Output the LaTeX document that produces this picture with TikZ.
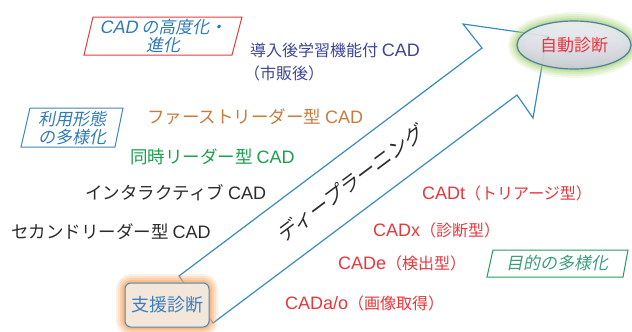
\documentclass[tikz,border=0pt]{standalone}
\usepackage{fontspec}
\usetikzlibrary{shapes.geometric}
\setmainfont{Liberation Sans}
\newfontfamily\jp{Noto Sans CJK JP}
\newfontfamily\jpit[FakeSlant=0.2]{Noto Sans CJK JP}
\newfontfamily\latit[FakeSlant=0.2]{Liberation Sans}
\newcommand\LT[1]{{\rmfamily\fontsize{18pt}{19pt}\selectfont #1}}
\definecolor{arrowc}{HTML}{3A8BBD}
\definecolor{lblblue}{HTML}{2E7BB5}
\definecolor{redline}{HTML}{E53A40}
\definecolor{blueline}{HTML}{3F86BF}
\definecolor{greenline}{HTML}{1E9E55}
\definecolor{greentxt}{HTML}{3A9E78}
\definecolor{indigo}{HTML}{3D4595}
\definecolor{orangetxt}{HTML}{C97B3B}
\definecolor{greentxt2}{HTML}{18A04C}
\definecolor{darktxt}{HTML}{2B2B2B}
\definecolor{redtxt}{HTML}{E8363D}
\definecolor{elltop}{HTML}{ECEEF2}
\definecolor{ellbot}{HTML}{C6CAD3}
\definecolor{ellborder}{HTML}{4D7FA3}
\definecolor{glowgreen}{HTML}{A9D47A}
\definecolor{gloworange}{HTML}{F7A866}
\definecolor{boxfill}{HTML}{F3E7DC}
\definecolor{boxborder}{HTML}{4A8BBB}
\definecolor{boxtxt}{HTML}{3A7FBF}
\tikzset{
  txt/.style={anchor=west, inner sep=0pt, font=\fontsize{16pt}{19pt}\selectfont\jp},
  txtk/.style={anchor=west, inner sep=0pt, font=\fontsize{17.5pt}{19pt}\selectfont\jp},
  lbl/.style={inner sep=0pt, align=center, font=\fontsize{17pt}{18pt}\selectfont\jpit},
  frame/.style={line width=1pt},
  arrowline/.style={draw=arrowc, line width=1.2pt, line join=miter},
}
\begin{document}
\begin{tikzpicture}[x=1pt,y=-1pt]
\useasboundingbox (0,0) rectangle (632,332);
% big arrow
\draw[arrowline] (179,276) -- (482,48) -- (463,24) -- (547,36) -- (533,118) -- (517,95) -- (213,323) -- cycle;
% ellipse glow
\foreach \w/\o in {18/0.15,14/0.2,10/0.25,6/0.35,3/0.45}
  \draw[line width=\w pt, draw=glowgreen, opacity=\o] (574,45) ellipse (57 and 24);
\node[ellipse, minimum width=114pt, minimum height=48pt, inner sep=0pt,
      top color=elltop, bottom color=ellbot, draw=ellborder, line width=1.2pt,
      fill opacity=0.9, text opacity=1, text=redtxt,
      font=\fontsize{17pt}{19pt}\selectfont\jp] (auto) at (574,45) {自動診断};
% support box glow
\foreach \w/\o in {18/0.18,14/0.22,10/0.28,6/0.38,3/0.5}
  \draw[line width=\w pt, draw=gloworange, opacity=\o, rounded corners=7pt] (125,283) rectangle (209,327);
\node[draw=boxborder, fill=boxfill, rounded corners=6pt, line width=1pt,
      minimum width=84pt, minimum height=44pt, text=boxtxt,
      font=\fontsize{18pt}{19pt}\selectfont\jp] (shien) at (167,305) {支援診断};
% deep learning
\node[rotate=36.87, inner sep=0pt, font=\fontsize{20pt}{21pt}\selectfont\jpit, text=darktxt] (dl) at (350,184) {ディープラーニング};
% framed labels
\draw[frame, draw=redline] (93,17) -- (242,17) -- (232,55) -- (84,55) -- cycle;
\node[lbl, text=lblblue] (lbl1) at (163,36) {{\latit\fontsize{18pt}{18pt}\selectfont CAD} の高度化・\\進化};
\draw[frame, draw=blueline] (30,108) -- (123,108) -- (115,147) -- (21,147) -- cycle;
\node[lbl, text=lblblue] (lbl2) at (72,128) {利用形態\\の多様化};
\draw[frame, draw=greenline] (493,250) -- (628,250) -- (623,277) -- (487,277) -- cycle;
\node[lbl, text=greentxt] (lbl3) at (557,263) {目的の多様化};
% left texts
\node[txt, text=indigo] (t1) at (250,50) {導入後学習機能付 \LT{CAD}};
\node[txt, text=indigo] (t1b) at (244,73) {（市販後）};
\node[txtk, text=orangetxt] (t2) at (147,117) {ファーストリーダー型 \LT{CAD}};
\node[txtk, text=greentxt2] (t3) at (130,157) {同時リーダー型 \LT{CAD}};
\node[txtk, text=darktxt] (t4) at (85,193) {インタラクティブ \LT{CAD}};
\node[txtk, text=darktxt] (t5) at (11,232) {セカンドリーダー型 \LT{CAD}};
% right texts
\node[txt, text=redtxt] (r1) at (422,193) {\LT{CADt}（トリアージ型）};
\node[txt, text=redtxt] (r2) at (373,230) {\LT{CADx}（診断型）};
\node[txt, text=redtxt] (r3) at (338,263) {\LT{CADe}（検出型）};
\node[txt, text=redtxt] (r4) at (285,303) {\LT{CADa/o}（画像取得）};
\end{tikzpicture}
\end{document}
